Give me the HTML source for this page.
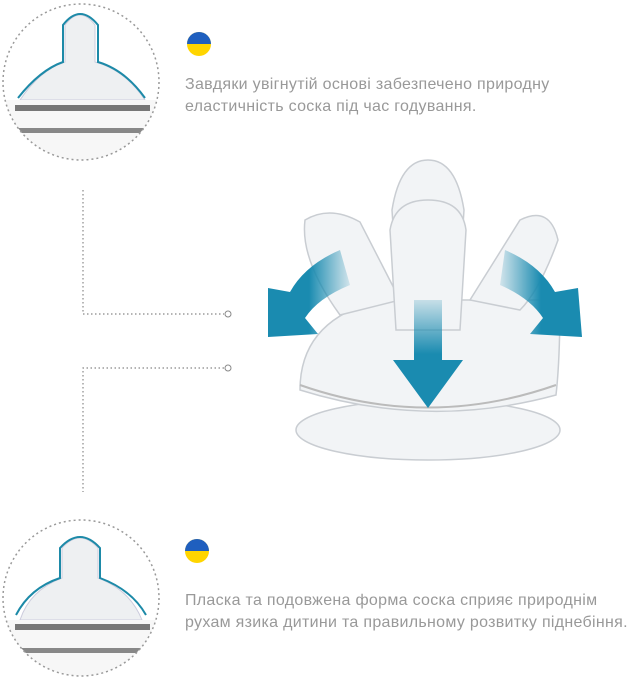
<!DOCTYPE html>
<html><head><meta charset="utf-8"><style>
body{margin:0;background:#fff;width:640px;height:680px;overflow:hidden;position:relative;font-family:"Liberation Sans",sans-serif}
.t{position:absolute;left:185px;color:#999;font-size:16px;line-height:22px;letter-spacing:0.3px;white-space:nowrap}
</style></head><body>
<svg width="640" height="680" style="position:absolute;left:0;top:0">
<defs>
<linearGradient id="g1" x1="0" y1="0" x2="1" y2="0"><stop offset="0" stop-color="#1a8bb0" stop-opacity="0.15"/><stop offset="0.5" stop-color="#1a8bb0"/></linearGradient>
<linearGradient id="g2" x1="1" y1="0" x2="0" y2="0"><stop offset="0" stop-color="#1a8bb0" stop-opacity="0.15"/><stop offset="0.5" stop-color="#1a8bb0"/></linearGradient>
<linearGradient id="g3" x1="0" y1="0" x2="0" y2="1"><stop offset="0" stop-color="#1a8bb0" stop-opacity="0.2"/><stop offset="0.5" stop-color="#1a8bb0"/></linearGradient>
<clipPath id="c1"><circle cx="81" cy="82" r="78"/></clipPath>
<clipPath id="c2"><circle cx="81" cy="598" r="78"/></clipPath>
</defs>
<g clip-path="url(#c1)">
<path d="M20 100 Q40 70 65 62 L65 25 Q80 5 95 25 L95 62 Q125 70 145 100 Z" fill="#eef0f2" stroke="#ccd" />
<rect x="0" y="100" width="170" height="70" fill="#f7f7f7"/>
<rect x="15" y="105" width="135" height="6" fill="#777"/>
<rect x="15" y="128" width="135" height="5" fill="#888"/>
<path d="M18 98 Q40 70 63 62 L63 25 Q80 3 98 25 L98 62 Q125 70 145 98" fill="none" stroke="#1d8aa8" stroke-width="2"/>
</g>
<circle cx="81" cy="82" r="78" fill="none" stroke="#999" stroke-width="1.5" stroke-dasharray="2 3"/>
<g clip-path="url(#c2)">
<path d="M20 620 Q30 590 62 578 L62 548 Q80 528 98 548 L98 578 Q130 590 142 620 Z" fill="#eef0f2" stroke="#ccd"/>
<rect x="0" y="620" width="170" height="70" fill="#f7f7f7"/>
<rect x="15" y="624" width="135" height="6" fill="#777"/>
<rect x="15" y="648" width="135" height="5" fill="#888"/>
<path d="M16 615 Q30 588 60 578 L60 548 Q80 526 100 548 L100 578 Q132 590 146 615" fill="none" stroke="#1d8aa8" stroke-width="2"/>
</g>
<circle cx="81" cy="598" r="78" fill="none" stroke="#999" stroke-width="1.5" stroke-dasharray="2 3"/>
<path d="M83 190 V314 H224" fill="none" stroke="#888" stroke-width="1.2" stroke-dasharray="1.5 2.5"/>
<circle cx="228" cy="314" r="3" fill="#fff" stroke="#888"/>
<path d="M224 368 H83 V492" fill="none" stroke="#888" stroke-width="1.2" stroke-dasharray="1.5 2.5"/>
<circle cx="228" cy="368" r="3" fill="#fff" stroke="#888"/>
<circle cx="199" cy="44" r="12" fill="#ffd500"/><path d="M187 44 A12 12 0 0 1 211 44 Z" fill="#1f5fbf"/>
<circle cx="197" cy="551" r="12" fill="#ffd500"/><path d="M185 551 A12 12 0 0 1 209 551 Z" fill="#1f5fbf"/>
<g fill="#f2f4f6" stroke="#c9cdd2" stroke-width="1.5">
<ellipse cx="428" cy="430" rx="132" ry="30"/>
<path d="M300 390 Q300 320 380 300 L560 300 Q560 360 556 395 Q428 430 300 390Z"/>
<path d="M305 220 Q330 205 360 222 L400 300 L340 315 Q300 260 305 220Z"/>
<path d="M520 220 Q550 205 558 240 Q540 290 520 310 L470 300 Z"/>
<path d="M392 210 Q400 160 428 160 Q456 160 464 210 L458 300 L398 300Z"/>
<path d="M390 230 Q395 200 428 200 Q462 200 466 230 L460 330 L396 330Z"/>
</g>
<path d="M300 385 Q428 430 556 385" fill="none" stroke="#bbb" stroke-width="2"/>
<path d="M340 250 Q305 265 290 292 L268 288 L268 337 L318 334 L305 318 Q318 298 350 285Z" fill="url(#g2)"/>
<path d="M505 250 Q540 265 555 292 L578 288 L582 337 L530 334 L543 318 Q530 298 500 285Z" fill="url(#g1)"/>
<path d="M414 300 H442 V360 H463 L428 408 L393 360 H414Z" fill="url(#g3)"/>
</svg>
<div class="t" style="top:74px">Завдяки увігнутій основі забезпечено природну<br>еластичність соска під час годування.</div>
<div class="t" style="top:590px">Пласка та подовжена форма соска сприяє природнім<br>рухам язика дитини та правильному розвитку піднебіння.</div>
</body></html>
